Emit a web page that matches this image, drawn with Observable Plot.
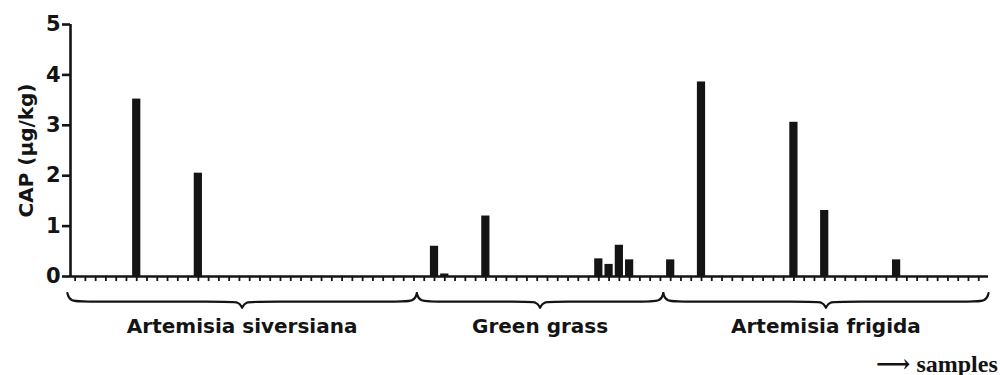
<!DOCTYPE html>
<html>
<head>
<meta charset="utf-8">
<script src="https://cdn.jsdelivr.net/npm/d3@7"></script>
<script src="https://cdn.jsdelivr.net/npm/@observablehq/plot@0.6"></script>
<style>
  html, body { margin: 0; padding: 0; background: #fff; }
  svg { display: block; }
</style>
</head>
<body>
<div id="chart"></div>
<script>
// ---- data ----
const groupNames = ["Artemisia siversiana", "Green grass", "Artemisia frigida"];
// CAP (µg/kg) per sample, in sample order, one array per group
const siversianaValues = [0,0,0,0,0,0,3.52,0,0,0,0,0,2.05,0,0,0,0,0,0,0,0,0,0,0,0,0,0,0,0,0,0,0,0,0];
const greenGrassValues = [0,0.60,0.05,0,0,0,1.20,0,0,0,0,0,0,0,0,0,0,0.35,0.24,0.62,0.33,0,0,0];
const frigidaValues = [0.33,0,0,3.86,0,0,0,0,0,0,0,0,3.06,0,0,1.31,0,0,0,0,0,0,0.33,0,0,0,0,0,0,0,0];
const yTicks = [0, 1, 2, 3, 4, 5];
const yLabel = "CAP (μg/kg)";
const xNote = "⟶ samples";

// ---- build tables ----
const groupValues = [siversianaValues, greenGrassValues, frigidaValues];
const samples = [];
const groups = [];
let idx = 0;
groupValues.forEach((vals, g) => {
  const start = idx;
  vals.forEach(v => { samples.push({i: idx, v, group: groupNames[g]}); idx++; });
  groups.push({name: groupNames[g], start, end: idx - 1});
});
const N = samples.length;

// brace extents (in sample units), boundaries between groups
const braceEdges = [-0.75];
for (let g = 0; g < groups.length - 1; g++) braceEdges.push(groups[g].end + 0.28);
braceEdges.push(N - 0.05);
const yEnd = -0.33, yLine = -0.50, yTip = -0.62;
const bracePts = [];
groups.forEach((g, k) => {
  const a = braceEdges[k], b = braceEdges[k + 1], m = (a + b) / 2;
  g.mid = m;
  const pts = [
    [a, yEnd], [a + 0.2, yLine], [a + 2.0, yLine], [m - 1.5, yLine], [m - 0.3, yLine],
    [m, yTip], [m, yTip], [m, yTip],
    [m + 0.3, yLine], [m + 1.5, yLine], [b - 2.0, yLine], [b - 0.2, yLine], [b, yEnd]
  ];
  pts.forEach(([x, y]) => bracePts.push({x, y, z: g.name}));
});

const ink = "#141414";
const sans = "'DejaVu Sans', 'Liberation Sans', Arial, sans-serif";

const chart = Plot.plot({
  width: 1000,
  height: 375,
  marginLeft: 70,
  marginRight: 12,
  marginTop: 24,
  marginBottom: 99,
  style: {fontFamily: sans, color: ink, background: "#fff", overflow: "visible"},
  x: {type: "linear", domain: [-0.45, N - 0.05], axis: null},
  y: {domain: [0, 5]},
  marks: [
    Plot.rectY(samples.filter(d => d.v > 0), {
      x1: d => d.i - 0.4, x2: d => d.i + 0.4, y: "v", fill: ink
    }),
    Plot.ruleX(samples, {x: "i", y1: 0, y2: -0.1, stroke: ink, strokeWidth: 1.8}),
    Plot.ruleY([0], {stroke: ink, strokeWidth: 2.6}),
    Plot.ruleX([-0.45], {y1: 0, y2: 5, stroke: ink, strokeWidth: 2.6}),
    Plot.axisY({
      ticks: yTicks, tickSize: 8, tickPadding: 2, strokeWidth: 2.6,
      fontSize: 21, fontWeight: "bold", label: null, tickFormat: d => d
    }),
    Plot.text([yLabel], {
      text: d => d, frameAnchor: "left", dx: -44, rotate: -90,
      fontSize: 20, fontWeight: "bold", textAnchor: "middle", fill: ink
    }),
    Plot.line(bracePts, {
      x: "x", y: "y", z: "z", curve: "basis", stroke: ink, strokeWidth: 2.2
    }),
    Plot.text(groups, {
      x: "mid", y: -1.0, text: "name", fontSize: 20, fontWeight: "bold",
      textAnchor: "middle", lineAnchor: "middle", fill: ink
    }),
    Plot.text([xNote], {
      x: N + 0.85, y: -1.74, text: d => d, textAnchor: "end", lineAnchor: "middle",
      fontSize: 24, fontWeight: "bold",
      fontFamily: "'Liberation Serif', 'Times New Roman', 'DejaVu Serif', serif", fill: ink
    })
  ]
});
document.getElementById("chart").appendChild(chart);
</script>
</body>
</html>
